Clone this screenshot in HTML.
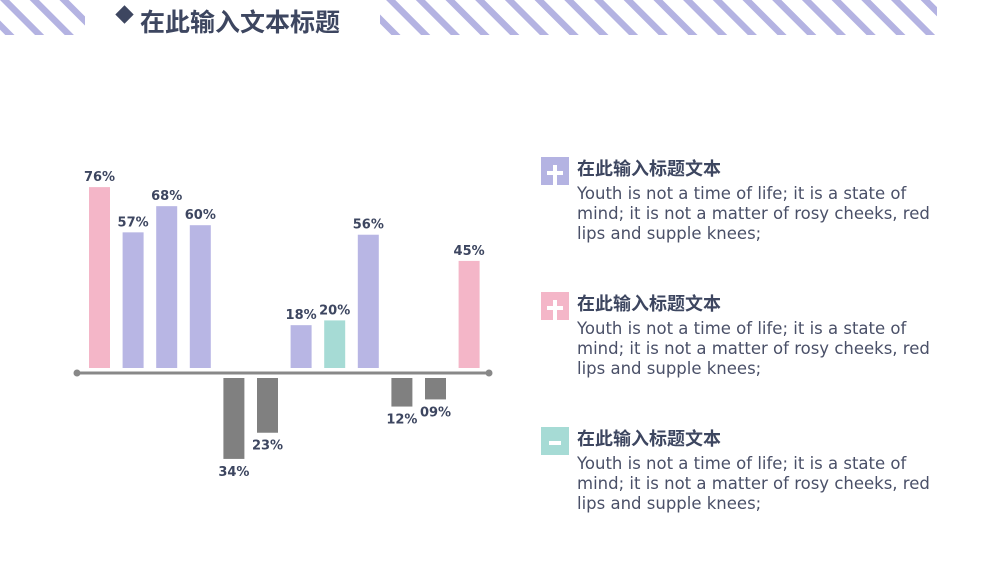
<!DOCTYPE html>
<html><head><meta charset="utf-8"><style>
body{margin:0;width:1000px;height:563px;background:#fff;overflow:hidden;position:relative;font-family:"DejaVu Sans","Liberation Sans","Noto Sans CJK SC",sans-serif;color:#3d4660}
.abs{position:absolute}
.icon{position:absolute;width:28px;height:28px}
.icon:before,.icon:after{content:"";position:absolute;background:#fff}
.plus:before{left:12px;top:8px;width:4px;height:20px}
.plus:after{left:6px;top:14px;width:16px;height:4px}
.minus:after{left:8px;top:14px;width:12px;height:4px}
.h{position:absolute;left:577px;font-size:18px;font-weight:bold;font-family:"Noto Sans CJK SC",sans-serif;line-height:22px}
.p{position:absolute;left:577px;width:370px;font-size:16.5px;line-height:20px;color:#4a5068}
</style></head><body>
<svg class="abs" style="left:0;top:0" width="1000" height="40">
<defs><pattern id="st" width="21" height="21" patternUnits="userSpaceOnUse" patternTransform="rotate(-45)"><rect x="0" y="0" width="6.5" height="21" fill="#b4b3e2"/></pattern></defs>
<rect x="0" y="0" width="85" height="35" fill="url(#st)"/>
<rect x="380" y="0" width="557" height="35" fill="url(#st)"/>
</svg>
<div class="abs" style="left:118px;top:8px;width:13px;height:13px;background:#3d4660;transform:rotate(45deg)"></div>
<div class="abs" style="left:140px;top:3px;font-size:25px;font-weight:bold;font-family:'Noto Sans CJK SC',sans-serif;color:#3d4660;line-height:36px">在此输入文本标题</div>

<svg id="chart" class="abs" style="left:0;top:0" width="520" height="563"></svg>

<div class="icon plus" style="left:541px;top:157px;background:#b4b3e2"></div>
<div class="h" style="top:157px">在此输入标题文本</div>
<div class="p" style="top:184px">Youth is not a time of life; it is a state of mind; it is not a matter of rosy cheeks, red lips and supple knees;</div>

<div class="icon plus" style="left:541px;top:292px;background:#f4b6c8"></div>
<div class="h" style="top:292px">在此输入标题文本</div>
<div class="p" style="top:319px">Youth is not a time of life; it is a state of mind; it is not a matter of rosy cheeks, red lips and supple knees;</div>

<div class="icon minus" style="left:541px;top:427px;background:#a6dbd5"></div>
<div class="h" style="top:427px">在此输入标题文本</div>
<div class="p" style="top:454px">Youth is not a time of life; it is a state of mind; it is not a matter of rosy cheeks, red lips and supple knees;</div>

<script>
const values=[76,57,68,60,-34,-23,18,20,56,-12,-9,45];
const labels=["76%","57%","68%","60%","34%","23%","18%","20%","56%","12%","09%","45%"];
const colors=["#f4b6c8","#b8b6e4","#b8b6e4","#b8b6e4","#808080","#808080","#b8b6e4","#a6dbd5","#b8b6e4","#808080","#808080","#f4b6c8"];
const svg=document.getElementById('chart');
const NS='http://www.w3.org/2000/svg';
const x0=89,step=33.6,bw=21,posBase=368,negBase=378,k=2.38;
function xs(i){return x0+i*step;}
function hs(v){return Math.abs(v)*k;}
function mk(t,a){const e=document.createElementNS(NS,t);for(const n in a)e.setAttribute(n,a[n]);svg.appendChild(e);return e;}
const ax=mk('line',{x1:77,y1:373,x2:489,y2:373,stroke:'#888',"stroke-width":3});


[77,489].forEach(cx=>{const c=mk('circle',{cx:cx,cy:373,r:3.5,fill:'#888'});

});
values.forEach((v,i)=>{
  const h=hs(v);const y=v>=0?posBase-h:negBase;
  const r=mk('rect',{x:xs(i),y:y,width:bw,height:h,fill:colors[i]});
  
  
  const ty=v>=0?y-6:y+h+17;
  const t=mk('text',{x:xs(i)+bw/2,y:ty,"text-anchor":"middle","font-size":"13","font-weight":"bold",fill:"#3d4660","font-family":"DejaVu Sans, sans-serif"});
  t.textContent=labels[i];
  
  
});
</script>
</body></html>
